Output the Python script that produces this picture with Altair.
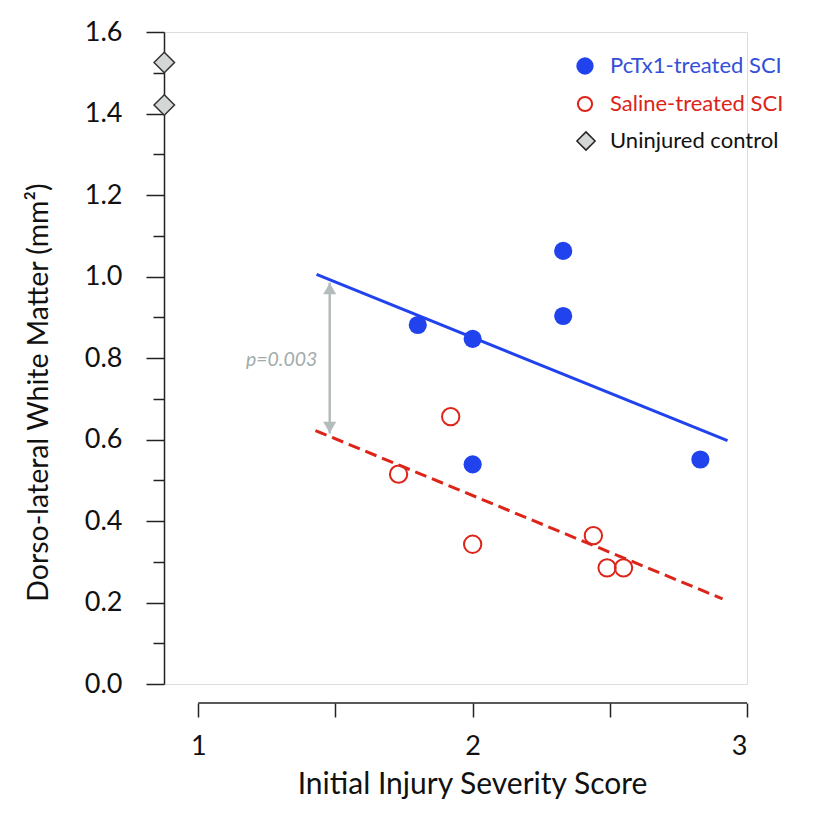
import altair as alt
import pandas as pd

# ---- data ----
pctx_x = [1.80, 2.00, 2.00, 2.33, 2.33, 2.83]
pctx_y = [0.881, 0.847, 0.539, 1.063, 0.903, 0.551]

saline_x = [1.73, 1.92, 2.00, 2.44, 2.49, 2.55]
saline_y = [0.515, 0.656, 0.343, 0.364, 0.285, 0.285]

control_x = [0.876, 0.876]
control_y = [1.525, 1.421]

pctx_fit_x = [1.431, 2.929]
pctx_fit_y = [1.005, 0.597]
saline_fit_x = [1.427, 2.911]
saline_fit_y = [0.622, 0.209]

arrow_x = [1.479]
arrow_top = [0.985]
arrow_bottom = [0.615]
p_label = ["p=0.003"]
p_x = [1.434]
p_y = [0.795]

legend_labels = ["PcTx1-treated SCI", "Saline-treated SCI", "Uninjured control"]

x_ticks = [1, 1.5, 2, 2.5, 3]
y_ticks = [round(i * 0.1, 1) for i in range(17)]

BLUE = "#2143ee"
RED = "#dc2419"
GRAY = "#b3bbbb"
FONT = "Lato"

W, H = 583, 652

xs = alt.Scale(domain=[0.875, 3.0], nice=False, zero=False)
ys = alt.Scale(domain=[0, 1.6], nice=False, zero=False)

pctx = pd.DataFrame({"x": pctx_x, "y": pctx_y})
saline = pd.DataFrame({"x": saline_x, "y": saline_y})
control = pd.DataFrame({"x": control_x, "y": control_y})
pfit = pd.DataFrame({"x": pctx_fit_x, "y": pctx_fit_y})
sfit = pd.DataFrame({"x": saline_fit_x, "y": saline_fit_y})
arrow = pd.DataFrame({"x": arrow_x, "y": arrow_top, "y2": arrow_bottom})
ptext = pd.DataFrame({"x": p_x, "y": p_y, "t": p_label})
xaxis_line = pd.DataFrame({"x": [x_ticks[0]], "x2": [x_ticks[-1]]})

x_axis = alt.Axis(
    values=x_ticks,
    labelExpr="datum.value % 1 == 0 ? format(datum.value, 'd') : ''",
    offset=19, domain=False, tickSize=14, tickColor="#222", tickWidth=1.5,
    labelFontSize=27, labelFont=FONT, labelColor="#111", labelPadding=16,
    title="Initial Injury Severity Score", titleFontSize=30, titleFont=FONT,
    titleFontWeight="normal", titleColor="#111", titleX=308, titlePadding=10,
    grid=False,
)
y_axis = alt.Axis(
    values=y_ticks,
    labelExpr="abs(round(datum.value*5) - datum.value*5) < 0.001 ? format(datum.value, '.1f') : ''",
    domainColor="#222", domainWidth=1.5, tickColor="#222", tickWidth=1.5,
    tickSize={"condition": {"test": "abs(round(datum.value*5) - datum.value*5) < 0.001", "value": 18}, "value": 11},
    labelFontSize=27, labelFont=FONT, labelColor="#111", labelPadding=24,
    title="Dorso-lateral White Matter (mm²)", titleFontSize=28.5, titleFont=FONT,
    titleFontWeight="normal", titleColor="#111", titleX=-126, titleY=360,
    titleAlign="center", titleBaseline="middle", grid=False,
)

X = alt.X("x:Q", scale=xs, axis=x_axis)
Y = alt.Y("y:Q", scale=ys, axis=y_axis)

axis_rule = alt.Chart(xaxis_line).mark_rule(color="#222", strokeWidth=1.5).encode(
    x=alt.X("x:Q", scale=xs, axis=x_axis), x2="x2:Q", y=alt.value(H + 19)
)

pline = alt.Chart(pfit).mark_line(color=BLUE, strokeWidth=3).encode(x=X, y=Y)
sline = alt.Chart(sfit).mark_line(color=RED, strokeWidth=3, strokeDash=[12, 6]).encode(x=X, y=Y)

ppts = alt.Chart(pctx).mark_point(filled=True, shape="circle", size=330, color=BLUE, opacity=1).encode(x=X, y=Y)
spts = alt.Chart(saline).mark_point(filled=False, shape="circle", size=300, color=RED, strokeWidth=2,
                                    opacity=1).encode(x=X, y=Y)
cpts = alt.Chart(control).mark_point(filled=True, shape="diamond", size=420, fill="#d3d8d6",
                                     stroke="#333", strokeWidth=1.5, opacity=1).encode(x=X, y=Y)

arrow_rule = alt.Chart(arrow).mark_rule(color=GRAY, strokeWidth=2.5).encode(x=X, y=Y, y2="y2:Q")
arrow_head_top = alt.Chart(arrow).mark_point(filled=True, shape="triangle-up", size=170, color=GRAY,
                                             opacity=1).encode(x=X, y=Y, yOffset=alt.value(6))
arrow_head_bot = alt.Chart(arrow).mark_point(filled=True, shape="triangle-down", size=170, color=GRAY,
                                             opacity=1).encode(x=X, y=alt.Y("y2:Q", scale=ys, axis=y_axis),
                                                               yOffset=alt.value(-6))
p_txt = alt.Chart(ptext).mark_text(align="right", baseline="middle", fontSize=19.5, fontStyle="italic",
                                   font=FONT, color="#a3abab").encode(x=X, y=Y, text="t:N")

# ---- manual legend ----
LX, LTX = 421, 446
LY = [34, 72, 109]
leg_df = pd.DataFrame({"label": legend_labels})
leg1 = alt.Chart(leg_df.iloc[[0]]).mark_point(filled=True, shape="circle", size=300, color=BLUE, opacity=1).encode(
    x=alt.value(LX), y=alt.value(LY[0]))
leg2 = alt.Chart(leg_df.iloc[[1]]).mark_point(filled=False, shape="circle", size=200, color=RED, strokeWidth=2,
                                              opacity=1).encode(x=alt.value(LX), y=alt.value(LY[1]))
leg3 = alt.Chart(leg_df.iloc[[2]]).mark_point(filled=True, shape="diamond", size=330, fill="#d3d8d6",
                                              stroke="#222", strokeWidth=1.5, opacity=1).encode(
    x=alt.value(LX + 1), y=alt.value(LY[2]))
t1 = alt.Chart(leg_df.iloc[[0]]).mark_text(align="left", baseline="middle", fontSize=22, font=FONT,
                                           color="#3450d8").encode(x=alt.value(LTX), y=alt.value(LY[0]), text="label:N")
t2 = alt.Chart(leg_df.iloc[[1]]).mark_text(align="left", baseline="middle", fontSize=22, font=FONT,
                                           color=RED).encode(x=alt.value(LTX), y=alt.value(LY[1]), text="label:N")
t3 = alt.Chart(leg_df.iloc[[2]]).mark_text(align="left", baseline="middle", fontSize=22, font=FONT,
                                           color="#111").encode(x=alt.value(LTX), y=alt.value(LY[2]), text="label:N")

chart = alt.layer(
    pline, sline, axis_rule, arrow_rule, arrow_head_top, arrow_head_bot, p_txt,
    spts, ppts, cpts, leg1, leg2, leg3, t1, t2, t3,
).properties(
    width=W, height=H,
    autosize=alt.AutoSizeParams(type="none"),
    padding={"left": 156, "top": 24, "right": 40, "bottom": 120},
).configure_view(stroke=None).configure(background="white")

chart.save("out.html", embed_options={"renderer": "svg", "actions": False})
